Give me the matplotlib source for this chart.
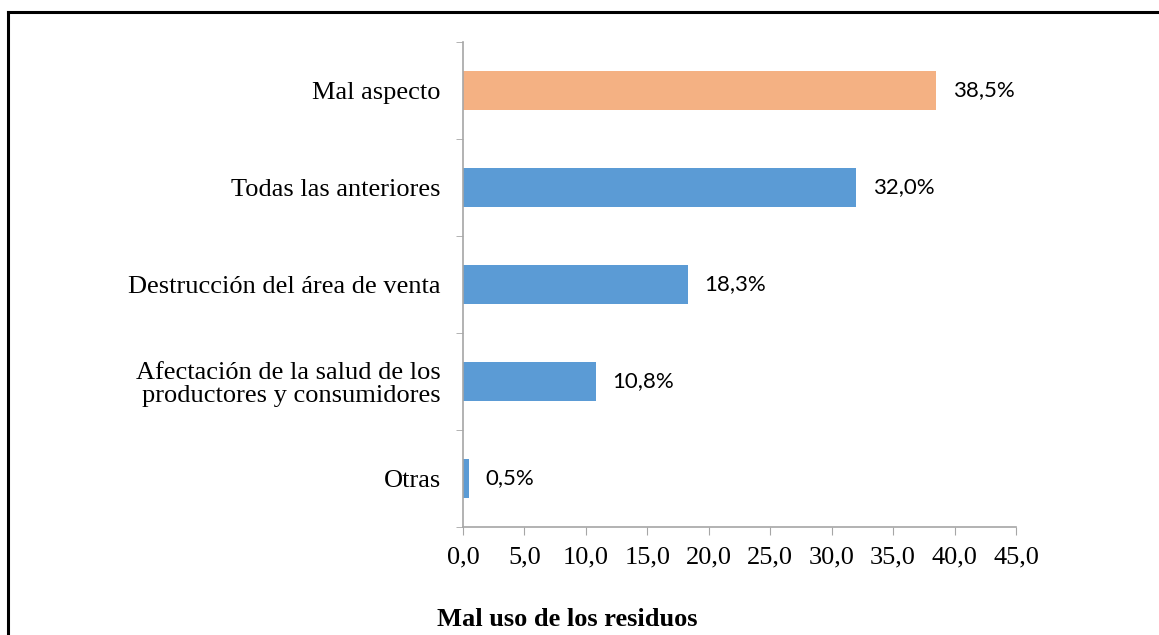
import matplotlib.pyplot as plt
from matplotlib.lines import Line2D
import numpy as np

categories = ["Otras", "Afectación de la salud de los\nproductores y consumidores",
              "Destrucción del área de venta", "Todas las anteriores", "Mal aspecto"]
values = [0.5, 10.8, 18.3, 32.0, 38.5]
colors = ["#5B9BD5", "#5B9BD5", "#5B9BD5", "#5B9BD5", "#F4B183"]
xticks = [0, 5, 10, 15, 20, 25, 30, 35, 40, 45]

fig = plt.figure(figsize=(11.59, 6.35), dpi=100)
ax = fig.add_axes([0.3995, 0.170, 0.4771, 0.7638])

y = np.arange(len(categories))
ax.barh(y, values, height=0.4, color=colors)

for yi, v in zip(y, values):
    ax.annotate(f"{v:.1f}%".replace(".", ","), (v, yi), xytext=(12, 0),
                textcoords="offset points", va="center", ha="left",
                fontsize=16, family="Lato")

ax.set_xlim(0, 45)
ax.set_ylim(-0.5, len(categories) - 0.5)
ax.set_xticks(xticks)
ax.set_xticklabels([f"{t:.1f}".replace(".", ",") for t in xticks],
                   fontsize=19, family="Liberation Serif")
ax.set_yticks(y)
ax.set_yticklabels(categories, fontsize=19, family="Liberation Serif",
                   linespacing=1.05)
ax.set_yticks(np.arange(len(categories) + 1) - 0.5, minor=True)
ax.tick_params(axis="y", which="major", length=0, pad=16)
ax.tick_params(axis="y", which="minor", length=5, color="#A6A6A6", direction="out")
ax.tick_params(axis="x", length=6, color="#A6A6A6", pad=8)

for s in ["top", "right"]:
    ax.spines[s].set_visible(False)
for s in ["left", "bottom"]:
    ax.spines[s].set_color("#A6A6A6")
    ax.spines[s].set_linewidth(1.2)

fig.text(0.377, 0.014, "Mal uso de los residuos", ha="left", va="baseline",
         fontsize=19, fontweight="bold", family="Liberation Serif")

# frame around the figure (only top and left visible)
fig.add_artist(Line2D([0.0069, 0.0069], [0, 0.981], color="black", lw=2.2,
                      transform=fig.transFigure))
fig.add_artist(Line2D([0.0069, 1.0], [0.981, 0.981], color="black", lw=2.2,
                      transform=fig.transFigure))

fig.savefig("out.png", dpi=100)
